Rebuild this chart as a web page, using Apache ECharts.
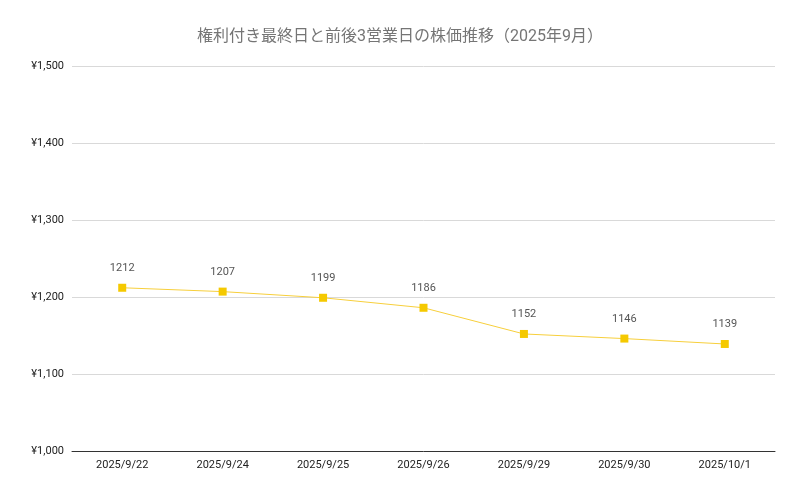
<!DOCTYPE html>
<html><head><meta charset="utf-8">
<script src="https://cdn.jsdelivr.net/npm/echarts@6/dist/echarts.min.js"></script>
<style>html,body{margin:0;padding:0;background:#fff}#c{width:800px;height:494px}</style>
</head><body><div id="c"></div>
<script>
const categories = ['2025/9/22','2025/9/24','2025/9/25','2025/9/26','2025/9/29','2025/9/30','2025/10/1'];
const prices = [1212,1207,1199,1186,1152,1146,1139];
const chart = echarts.init(document.getElementById('c'));
chart.setOption({
  animation:false,
  title:{text:'権利付き最終日と前後3営業日の株価推移（2025年9月）',left:'center',top:24,
    textStyle:{fontFamily:'Roboto, "Noto Sans CJK JP"',fontSize:16,fontWeight:'normal',color:'#757575'}},
  grid:{left:72,right:25,top:66,bottom:43},
  xAxis:{type:'category',data:categories,boundaryGap:true,
    axisLine:{lineStyle:{color:'#333'}},axisTick:{show:false},
    axisLabel:{color:'#222',fontSize:11,fontFamily:'Roboto',margin:9}},
  yAxis:{type:'value',min:1000,max:1500,interval:100,
    axisLine:{show:false},axisTick:{show:false},
    splitLine:{lineStyle:{color:'#d9d9d9'}},
    axisLabel:{color:'#222',fontSize:11,fontFamily:'Roboto',margin:8,
      formatter:v=>'¥'+v.toLocaleString('en-US')}},
  series:[{type:'line',data:prices,symbol:'rect',symbolSize:8,
    lineStyle:{color:'#f7cf3b',width:1},itemStyle:{color:'#f5c900'},
    label:{show:true,position:'top',distance:10,color:'#555',fontSize:11,fontFamily:'Roboto'}}]
});
</script></body></html>
